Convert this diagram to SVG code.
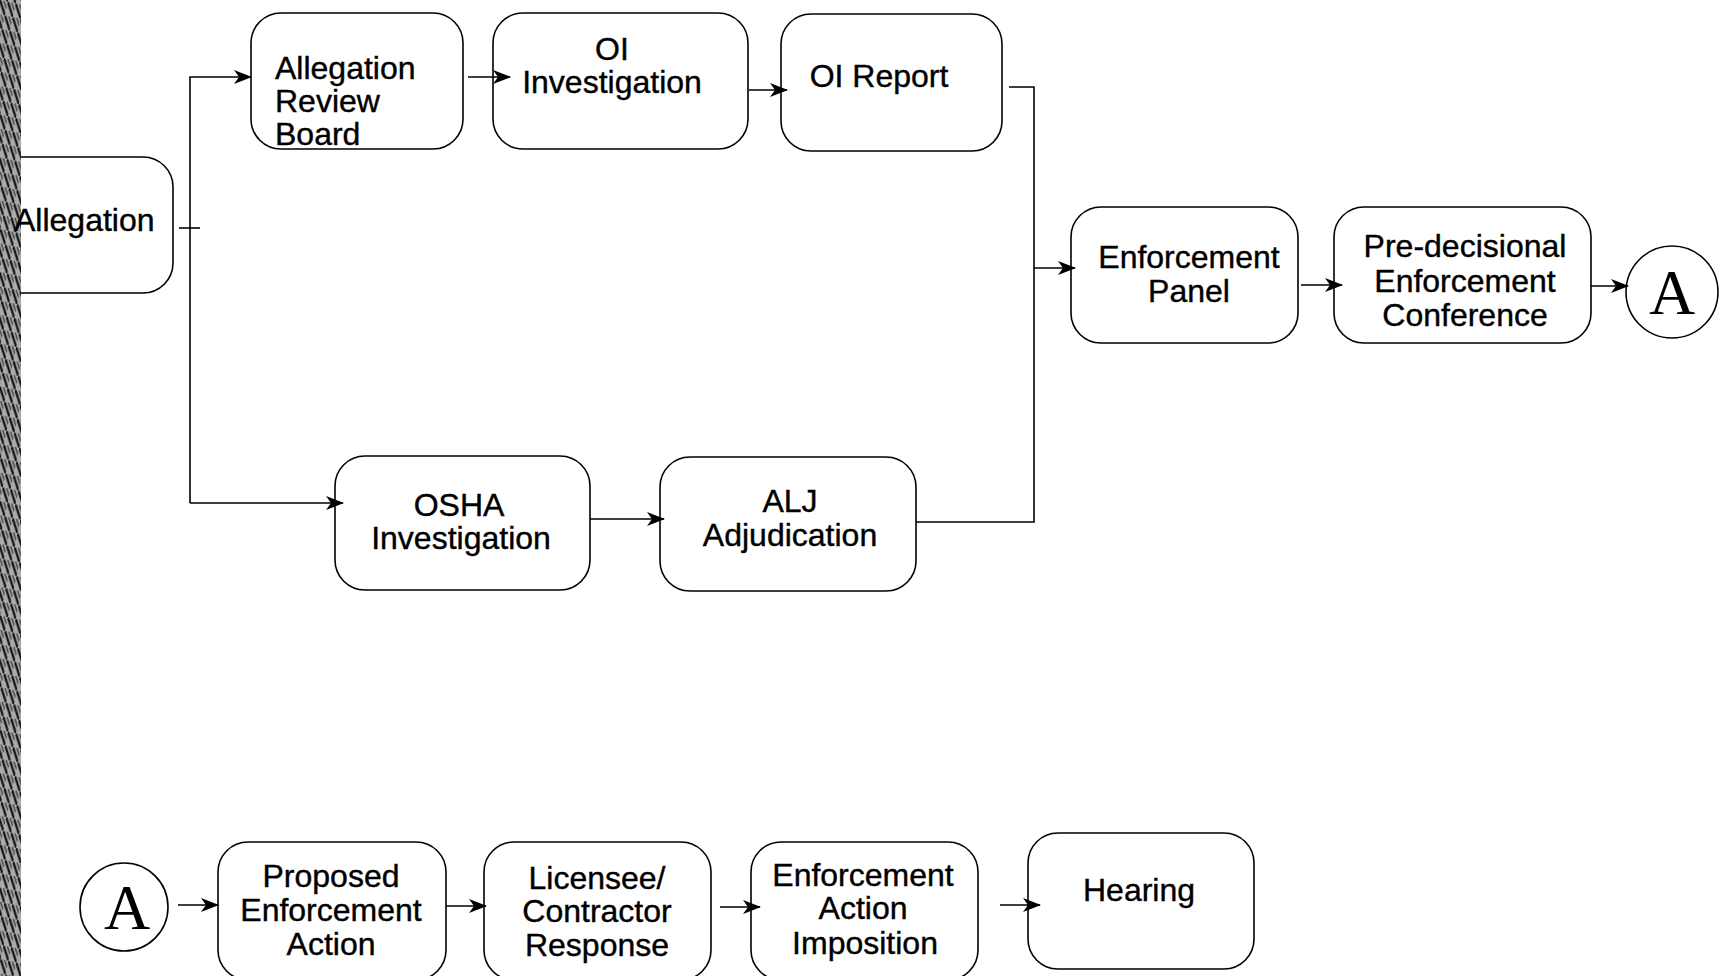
<svg xmlns="http://www.w3.org/2000/svg" width="1720" height="976" viewBox="0 0 1720 976">
<defs>
<style>
.box{fill:#fff;stroke:#000;stroke-width:1.6}
.t{font-family:"Liberation Sans",Arial,sans-serif;font-size:32px;fill:#000;stroke:#000;stroke-width:0.4}
.c{text-anchor:middle}
.big{font-family:"Liberation Serif","Times New Roman",serif;font-size:64px;fill:#000;text-anchor:middle}
.ln{fill:none;stroke:#000;stroke-width:1.6}
</style>
<marker id="ah" viewBox="0 0 18 14" refX="17" refY="7" markerWidth="18" markerHeight="14" markerUnits="userSpaceOnUse" orient="auto">
<path d="M0,0 L18,7 L0,14 L5,7 Z" fill="#000"/>
</marker>
<pattern id="scan" width="8" height="14" patternUnits="userSpaceOnUse" patternTransform="rotate(12)">
<rect width="8" height="14" fill="#aaa"/>
<line x1="0" y1="0" x2="8" y2="14" stroke="#111" stroke-width="2.2"/>
<line x1="4" y1="0" x2="12" y2="14" stroke="#333" stroke-width="1.2"/>
</pattern>
</defs>
<rect width="1720" height="976" fill="#fff"/>
<rect x="0" y="0" width="21" height="976" fill="url(#scan)"/>

<g id="allegation">
<rect class="box" x="-30" y="157" width="203" height="136" rx="30"/>
<rect x="0" y="150" width="21" height="150" fill="url(#scan)"/>
<text class="t" x="14" y="231">Allegation</text>
</g>
<g id="allegation-review-board">
<rect class="box" x="251" y="13" width="212" height="136" rx="30"/>
<text class="t" x="275" y="79">Allegation</text>
<text class="t" x="275" y="112">Review</text>
<text class="t" x="275" y="145">Board</text>
</g>
<g id="oi-investigation">
<rect class="box" x="493" y="13" width="255" height="136" rx="30"/>
<text class="t c" x="612" y="60">OI</text>
<text class="t c" x="612" y="93">Investigation</text>
</g>
<g id="oi-report">
<rect class="box" x="781" y="14" width="221" height="137" rx="30"/>
<text class="t c" x="879" y="87">OI Report</text>
</g>
<g id="enforcement-panel">
<rect class="box" x="1071" y="207" width="227" height="136" rx="30"/>
<text class="t c" x="1189" y="268">Enforcement</text>
<text class="t c" x="1189" y="302">Panel</text>
</g>
<g id="predecisional">
<rect class="box" x="1334" y="207" width="257" height="136" rx="30"/>
<text class="t c" x="1465" y="257">Pre-decisional</text>
<text class="t c" x="1465" y="292">Enforcement</text>
<text class="t c" x="1465" y="326">Conference</text>
</g>
<g id="connector-a-top">
<circle class="box" cx="1672" cy="292" r="46"/>
<text class="big" x="1672" y="314">A</text>
</g>
<g id="osha-investigation">
<rect class="box" x="335" y="456" width="255" height="134" rx="30"/>
<text class="t c" x="459" y="516">OSHA</text>
<text class="t c" x="461" y="549">Investigation</text>
</g>
<g id="alj-adjudication">
<rect class="box" x="660" y="457" width="256" height="134" rx="30"/>
<text class="t c" x="790" y="512">ALJ</text>
<text class="t c" x="790" y="546">Adjudication</text>
</g>
<g id="connector-a-bottom">
<circle class="box" cx="124" cy="907" r="44"/>
<text class="big" x="127" y="929">A</text>
</g>
<g id="proposed-enforcement-action">
<rect class="box" x="218" y="842" width="228" height="138" rx="30"/>
<text class="t c" x="331" y="887">Proposed</text>
<text class="t c" x="331" y="921">Enforcement</text>
<text class="t c" x="331" y="955">Action</text>
</g>
<g id="licensee-response">
<rect class="box" x="484" y="842" width="227" height="138" rx="30"/>
<text class="t c" x="597" y="889">Licensee/</text>
<text class="t c" x="597" y="922">Contractor</text>
<text class="t c" x="597" y="956">Response</text>
</g>
<g id="enforcement-action-imposition">
<rect class="box" x="751" y="842" width="227" height="138" rx="30"/>
<text class="t c" x="863" y="886">Enforcement</text>
<text class="t c" x="863" y="919">Action</text>
<text class="t c" x="865" y="954">Imposition</text>
</g>
<g id="hearing">
<rect class="box" x="1028" y="833" width="226" height="136" rx="30"/>
<text class="t c" x="1139" y="901">Hearing</text>
</g>

<g id="connectors">
<line class="ln" x1="179" y1="228" x2="200" y2="228"/>
<polyline class="ln" points="190,503 190,77 251,77" marker-end="url(#ah)"/>
<polyline class="ln" points="190,503 343,503" marker-end="url(#ah)"/>
<line class="ln" x1="468" y1="77" x2="510" y2="77" marker-end="url(#ah)"/>
<line class="ln" x1="749" y1="90" x2="787" y2="90" marker-end="url(#ah)"/>
<polyline class="ln" points="1009,87 1034,87 1034,522 916,522"/>
<line class="ln" x1="1034" y1="268" x2="1075" y2="268" marker-end="url(#ah)"/>
<line class="ln" x1="590" y1="519" x2="664" y2="519" marker-end="url(#ah)"/>
<line class="ln" x1="1301" y1="285" x2="1342" y2="285" marker-end="url(#ah)"/>
<line class="ln" x1="1591" y1="286" x2="1628" y2="286" marker-end="url(#ah)"/>
<line class="ln" x1="178" y1="905" x2="218" y2="905" marker-end="url(#ah)"/>
<line class="ln" x1="446" y1="906" x2="486" y2="906" marker-end="url(#ah)"/>
<line class="ln" x1="720" y1="907" x2="760" y2="907" marker-end="url(#ah)"/>
<line class="ln" x1="1000" y1="905" x2="1040" y2="905" marker-end="url(#ah)"/>
</g>
</svg>
